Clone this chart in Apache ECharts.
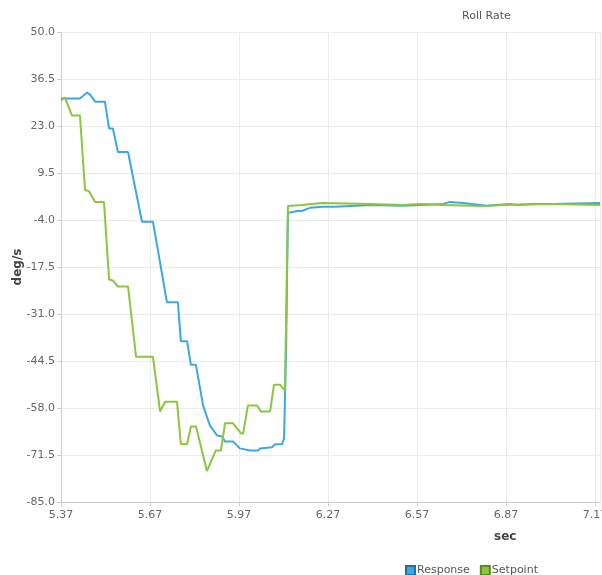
<!DOCTYPE html>
<html>
<head>
<meta charset="utf-8">
<script src="https://cdn.jsdelivr.net/npm/echarts@6/dist/echarts.min.js"></script>
<style>
html,body{margin:0;padding:0;background:#fff;}
#chart{width:602px;height:575px;}
</style>
</head>
<body>
<div id="chart"></div>
<script>
var chartTitle = 'Roll Rate';
var xName = 'sec';
var yName = 'deg/s';
var seriesNames = ['Response', 'Setpoint'];

var responseTime = [5.370, 5.434, 5.458, 5.468, 5.485, 5.518, 5.532, 5.545, 5.562, 5.596, 5.643, 5.680, 5.727, 5.764, 5.774, 5.795, 5.808, 5.825, 5.849, 5.862, 5.872, 5.896, 5.913, 5.923, 5.950, 5.973, 6.007, 6.034, 6.041, 6.081, 6.091, 6.115, 6.122, 6.129, 6.135, 6.152, 6.166, 6.182, 6.209, 6.253, 6.294, 6.412, 6.523, 6.658, 6.681, 6.725, 6.806, 6.884, 6.907, 6.961, 7.028, 7.187];
var responseValues = [30.9, 30.9, 32.6, 32.0, 30.0, 30.0, 22.3, 22.3, 15.5, 15.5, -4.5, -4.5, -27.6, -27.6, -38.8, -38.8, -45.6, -45.6, -57.3, -60.5, -63.0, -65.9, -66.2, -67.6, -67.6, -69.6, -70.2, -70.2, -69.6, -69.3, -68.4, -68.4, -66.7, -40.0, -1.9, -1.7, -1.4, -1.4, -0.5, -0.2, -0.2, 0.3, 0.1, 0.6, 1.2, 0.9, 0.1, 0.6, 0.3, 0.6, 0.6, 0.9];

var setpointTime = [5.370, 5.383, 5.407, 5.434, 5.451, 5.464, 5.485, 5.515, 5.532, 5.545, 5.562, 5.596, 5.623, 5.680, 5.704, 5.721, 5.761, 5.774, 5.795, 5.808, 5.825, 5.862, 5.892, 5.909, 5.923, 5.950, 5.977, 5.984, 6.000, 6.031, 6.044, 6.075, 6.088, 6.108, 6.125, 6.135, 6.182, 6.250, 6.412, 6.523, 6.580, 6.658, 6.793, 6.860, 7.028, 7.187];
var setpointValues = [30.3, 31.2, 26.0, 26.0, 4.6, 4.3, 1.2, 1.2, -21.1, -21.4, -23.1, -23.1, -43.3, -43.3, -59.0, -56.2, -56.2, -68.4, -68.4, -63.3, -63.3, -76.1, -70.2, -70.2, -62.4, -62.4, -65.3, -65.3, -57.3, -57.3, -59.0, -59.0, -51.3, -51.3, -53.0, 0.0, 0.3, 0.9, 0.6, 0.3, 0.6, 0.3, 0.0, 0.3, 0.6, 0.3];

function pairs(xs, ys) {
  var out = [];
  for (var i = 0; i < xs.length; i++) out.push([xs[i], ys[i]]);
  return out;
}

var blue = '#3aa8e6';
var green = '#8cc63f';

var chart = echarts.init(document.getElementById('chart'), null, {renderer: 'canvas'});
chart.setOption({
  animation: false,
  backgroundColor: '#ffffff',
  title: {
    text: chartTitle,
    left: 462,
    top: 11,
    padding: 0,
    textStyle: {fontFamily: 'DejaVu Sans', fontSize: 11, fontWeight: 'normal', color: '#555'}
  },
  grid: {left: 61, right: 2, top: 32, bottom: 73, containLabel: false, outerBoundsMode: 'none'},
  legend: {
    data: seriesNames,
    left: 400,
    top: 560,
    itemWidth: 9,
    itemHeight: 9,
    itemGap: 10,
    icon: 'rect',
    textStyle: {fontFamily: 'DejaVu Sans', fontSize: 11, color: '#555', padding: [0, 0, 0, -3]}
  },
  xAxis: {
    type: 'value',
    min: 5.37,
    max: 7.187,
    interval: 0.3,
    axisLine: {show: true, onZero: false, lineStyle: {color: '#cccccc'}},
    axisTick: {show: true, length: 4, lineStyle: {color: '#cccccc'}},
    splitLine: {show: true, lineStyle: {color: '#ebebeb', width: 1}},
    axisLabel: {
      showMaxLabel: false,
      margin: 8,
      fontFamily: 'DejaVu Sans', fontSize: 11, color: '#666',
      formatter: function (v) { return v.toFixed(2); }
    }
  },
  yAxis: {
    type: 'value',
    min: -85,
    max: 50,
    interval: 13.5,
    name: yName,
    nameLocation: 'middle',
    nameGap: 37,
    nameMoveOverlap: false,
    nameTextStyle: {fontFamily: 'DejaVu Sans', fontSize: 12, fontWeight: 'bold', color: '#444'},
    axisLine: {show: true, lineStyle: {color: '#cccccc'}},
    axisTick: {show: true, length: 4, lineStyle: {color: '#cccccc'}},
    splitLine: {show: true, lineStyle: {color: '#ebebeb', width: 1}},
    axisLabel: {
      margin: 6,
      fontFamily: 'DejaVu Sans', fontSize: 11, color: '#666',
      formatter: function (v) { return v.toFixed(1); }
    }
  },
  graphic: [{
    type: 'text',
    left: 494,
    top: 531,
    style: {text: xName, font: 'bold 12px "DejaVu Sans"', fill: '#444'}
  }],
  series: [
    {
      name: seriesNames[0],
      type: 'line',
      data: pairs(responseTime, responseValues),
      showSymbol: false,
      symbol: 'none',
      lineStyle: {color: blue, width: 2},
      itemStyle: {color: blue, borderColor: '#1f6fa0', borderWidth: 1},
      z: 2
    },
    {
      name: seriesNames[1],
      type: 'line',
      data: pairs(setpointTime, setpointValues),
      showSymbol: false,
      symbol: 'none',
      lineStyle: {color: green, width: 2},
      itemStyle: {color: green, borderColor: '#5a8a20', borderWidth: 1},
      z: 3
    }
  ]
});
</script>
</body>
</html>
